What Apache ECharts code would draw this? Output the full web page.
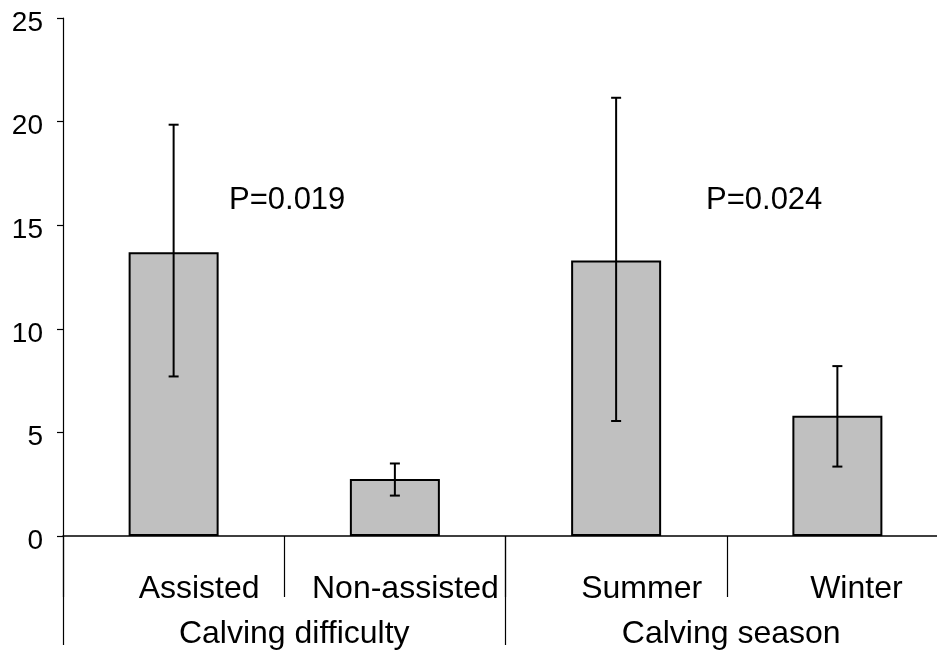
<!DOCTYPE html>
<html>
<head>
<meta charset="utf-8">
<script src="https://cdn.jsdelivr.net/npm/echarts@6/dist/echarts.min.js"></script>
<style>
html,body{margin:0;padding:0;background:#fff;overflow:hidden;width:937px;height:655px;}
#chart{width:948px;height:655px;}
</style>
</head>
<body>
<div id="chart"></div>
<script>
var categories = ['Assisted', 'Non-assisted', 'Summer', 'Winter'];
var means = [13.7, 2.75, 13.3, 5.8];
var errLow = [7.7, 1.95, 5.55, 3.35];
var errHigh = [19.85, 3.5, 21.15, 8.2];
var groups = ['Calving difficulty', 'Calving season'];
var pTexts = ['P=0.019', 'P=0.024'];
var yTicks = [0, 5, 10, 15, 20, 25];

var FONT = '"Liberation Sans", Arial, Helvetica, sans-serif';
var catPad = [51, 21, 51, 38];
var grpPad = [20, 9];

var chart = echarts.init(document.getElementById('chart'), null, {renderer: 'canvas'});

var errData = categories.map(function (c, i) { return [i, errLow[i], errHigh[i]]; });

chart.setOption({
  animation: false,
  backgroundColor: '#fff',
  grid: {left: 63, top: 18, right: 0, bottom: 119, containLabel: false},
  xAxis: [{
    type: 'category',
    data: categories.map(function (c, i) {
      return {value: c, textStyle: {padding: [0, 0, 0, catPad[i]]}};
    }),
    position: 'bottom',
    axisLine: {show: true, lineStyle: {color: '#000', width: 1.5}},
    axisTick: {show: true, length: 61, lineStyle: {color: '#000', width: 1.2}},
    axisLabel: {color: '#000', fontSize: 32, fontFamily: FONT, margin: 37, interval: 0},
    splitLine: {show: false}
  }, {
    type: 'category',
    data: groups.map(function (g, i) {
      return {value: g, textStyle: {padding: [0, 0, 0, grpPad[i]]}};
    }),
    position: 'bottom',
    axisLine: {show: false},
    axisTick: {show: true, length: 109, lineStyle: {color: '#000', width: 1.2}},
    axisLabel: {color: '#000', fontSize: 32, fontFamily: FONT, margin: 82, interval: 0},
    splitLine: {show: false}
  }],
  yAxis: {
    type: 'value',
    min: 0, max: 25, interval: 5,
    axisLine: {show: true, lineStyle: {color: '#000', width: 1.2}},
    axisTick: {show: true, length: 6, lineStyle: {color: '#000', width: 1.2}},
    axisLabel: {color: '#000', fontSize: 28, fontFamily: FONT, margin: 20, verticalAlign: 'top', lineHeight: 10},
    splitLine: {show: false}
  },
  series: [{
    type: 'bar',
    data: means,
    barWidth: 90,
    itemStyle: {color: '#c0c0c0', borderColor: '#000', borderWidth: 2},
    z: 2
  }, {
    type: 'custom',
    data: errData,
    encode: {x: 0, y: [1, 2]},
    z: 3,
    renderItem: function (params, api) {
      var x = api.value(0);
      var lo = api.coord([x, api.value(1)]);
      var hi = api.coord([x, api.value(2)]);
      var hw = 5;
      var st = {stroke: '#000', lineWidth: 2};
      return {
        type: 'group',
        children: [
          {type: 'line', shape: {x1: lo[0], y1: lo[1], x2: hi[0], y2: hi[1]}, style: st},
          {type: 'line', shape: {x1: lo[0] - hw, y1: lo[1], x2: lo[0] + hw, y2: lo[1]}, style: st},
          {type: 'line', shape: {x1: hi[0] - hw, y1: hi[1], x2: hi[0] + hw, y2: hi[1]}, style: st}
        ]
      };
    }
  }],
  graphic: [{
    type: 'text', left: 229, top: 185,
    style: {text: pTexts[0], fill: '#000', font: '31px ' + FONT}
  }, {
    type: 'text', left: 706, top: 185,
    style: {text: pTexts[1], fill: '#000', font: '31px ' + FONT}
  }]
});
</script>
</body>
</html>
